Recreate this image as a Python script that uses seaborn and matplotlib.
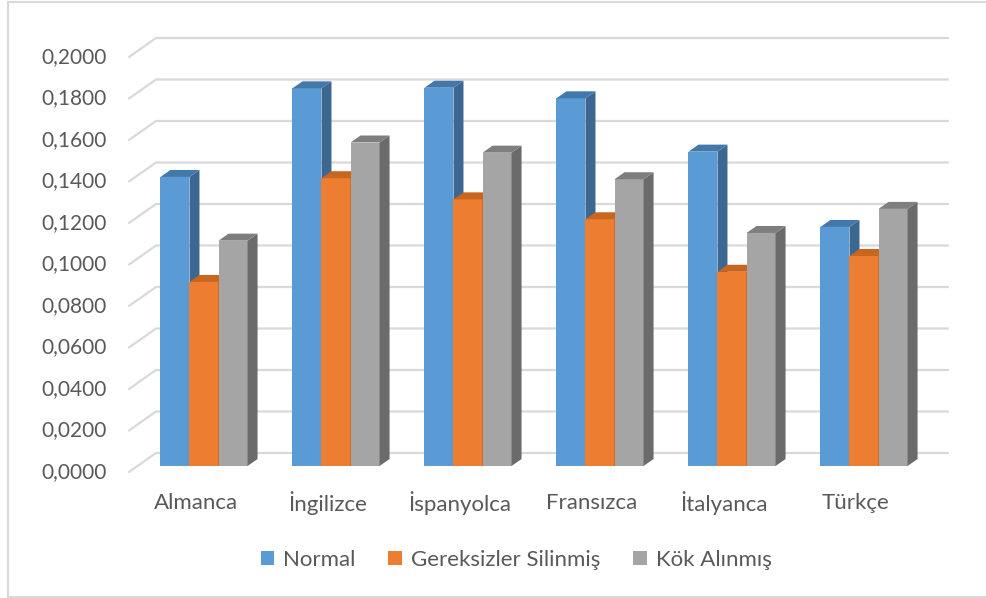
import matplotlib
matplotlib.use("Agg")
import matplotlib.pyplot as plt
import matplotlib.transforms as mtransforms
from matplotlib.patches import Polygon, Patch
from matplotlib.lines import Line2D
import seaborn as sns
import pandas as pd

# --- data -----------------------------------------------------------------
languages = ["Almanca", "İngilizce", "İspanyolca", "Fransızca", "İtalyanca", "Türkçe"]
series = ["Normal", "Gereksizler Silinmiş", "Kök Alınmış"]
normal = [0.1393, 0.1820, 0.1823, 0.1772, 0.1515, 0.1152]
stopwords_removed = [0.0887, 0.1387, 0.1285, 0.1189, 0.0936, 0.1012]
stemmed = [0.1086, 0.1559, 0.1510, 0.1382, 0.1123, 0.1239]
y_ticks = [0.0, 0.02, 0.04, 0.06, 0.08, 0.10, 0.12, 0.14, 0.16, 0.18, 0.20]

face_colors = ["#5b9bd5", "#ed7d31", "#a5a5a5"]
side_colors = ["#3b6791", "#b35d20", "#6b6b6b"]
top_colors = ["#4278aa", "#c8651f", "#7e7e7e"]

df = pd.DataFrame({
    "Dil": languages * 3,
    "Seri": [s for s in series for _ in languages],
    "Değer": normal + stopwords_removed + stemmed,
})

# --- figure ---------------------------------------------------------------
W, H = 987, 598
DPI = 100
sns.set_style("white")
plt.rcParams["font.family"] = ["Lato", "DejaVu Sans"]
fig = plt.figure(figsize=(W / DPI, H / DPI), dpi=DPI)

# axes in the plane of the bar faces (pixel geometry)
left_px, right_px = 138, 930
base_px, top_px = 466, 51
ax = fig.add_axes([left_px / W, (H - base_px) / H,
                   (right_px - left_px) / W, (base_px - top_px) / H])

sns.barplot(data=df, x="Dil", y="Değer", hue="Seri", order=languages,
            hue_order=series, palette=face_colors, saturation=1,
            width=0.66, errorbar=None, ax=ax, legend=False, linewidth=0)

ax.set_xlim(-0.5, len(languages) - 0.5)
ax.set_ylim(0, 0.2)
ax.set_axis_off()

# pixel -> data conversion factors
px_x = (len(languages)) / (right_px - left_px)
px_y = 0.2 / (base_px - top_px)

# depth of bars (pixels)
bdx, bdy = 10, 7
# floor depth: front edge and back wall relative to bar plane
fdx, fdy = -9, -6
wdx, wdy = 18, 13

grid_color = "#d9d9d9"
x0, x1 = -0.5, len(languages) - 0.5
for v in y_ticks:
    xs = [x0 + fdx * px_x, x0 + wdx * px_x, x1 + wdx * px_x]
    ys = [v + fdy * px_y, v + wdy * px_y, v + wdy * px_y]
    ax.add_line(Line2D(xs, ys, color=grid_color, lw=1.6, zorder=0.5,
                       clip_on=False))

# 3-D side and top faces of every bar
for k, cont in enumerate(ax.containers):
    for bar in cont:
        bar.set_zorder(2 + k)
        xl = bar.get_x()
        xr = xl + bar.get_width()
        h = bar.get_height()
        ddx, ddy = bdx * px_x, bdy * px_y
        side = Polygon([(xr, 0), (xr, h), (xr + ddx, h + ddy), (xr + ddx, ddy)],
                       closed=True, facecolor=side_colors[k], edgecolor="none",
                       zorder=2.1 + k, clip_on=False)
        top = Polygon([(xl, h), (xr, h), (xr + ddx, h + ddy), (xl + ddx, h + ddy)],
                      closed=True, facecolor=top_colors[k], edgecolor="none",
                      zorder=2.1 + k, clip_on=False)
        ax.add_patch(side)
        ax.add_patch(top)

text_color = "#595959"
# value axis labels, on the front edge of the floor
label_tr = mtransforms.blended_transform_factory(fig.transFigure, ax.transData) + \
    mtransforms.ScaledTranslation(0, fdy / DPI, fig.dpi_scale_trans)
for v in y_ticks:
    ax.text(107 / W, v, f"{v:.4f}".replace(".", ","), transform=label_tr,
            ha="right", va="center", fontsize=15, color=text_color)

# category labels
cat_tr = mtransforms.blended_transform_factory(ax.transData, fig.transFigure) + \
    mtransforms.ScaledTranslation(-8 / DPI, 0, fig.dpi_scale_trans)
for i, name in enumerate(languages):
    ax.text(i, (H - 503) / H, name, transform=cat_tr, ha="center",
            va="center", fontsize=16, color=text_color)

# legend
handles = [Patch(facecolor=c, edgecolor="none") for c in face_colors]
fig.legend(handles, series, loc="center", bbox_to_anchor=(516 / W, (H - 560) / H),
           ncol=3, frameon=False, fontsize=16, handlelength=0.6,
           handleheight=0.6, handletextpad=0.4, columnspacing=1.5,
           labelcolor=text_color)

# chart area border
border = "#d9d9d9"
fig.add_artist(Line2D([8 / W, 8 / W], [1 / H, 1 - 2 / H], color=border, lw=1.5,
                      transform=fig.transFigure))
fig.add_artist(Line2D([8 / W, 1], [1 - 2 / H, 1 - 2 / H], color=border, lw=1.5,
                      transform=fig.transFigure))
fig.add_artist(Line2D([8 / W, 1], [1 / H, 1 / H], color=border, lw=1.5,
                      transform=fig.transFigure))

fig.savefig("out.png", dpi=DPI)
